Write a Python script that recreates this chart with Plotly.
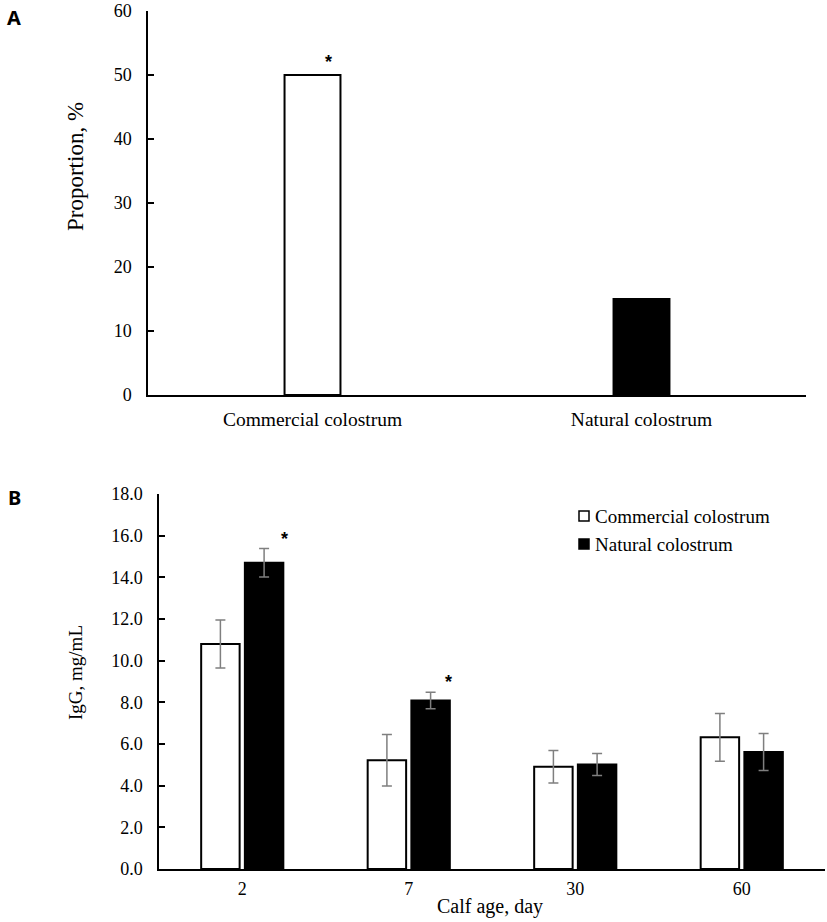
import plotly.graph_objects as go

# Panel A data
a_categories = ["Commercial colostrum", "Natural colostrum"]
a_values = [50, 15]
a_colors = ["white", "black"]

# Panel B data
b_days = ["2", "7", "30", "60"]
b_commercial = [10.8, 5.22, 4.91, 6.32]
b_commercial_err = [1.15, 1.24, 0.78, 1.15]
b_natural = [14.7, 8.09, 5.02, 5.62]
b_natural_err = [0.68, 0.40, 0.53, 0.89]
b_series_names = ["Commercial colostrum", "Natural colostrum"]

SERIF = "Liberation Serif"
W, H = 827, 922

fig = go.Figure()

fig.add_trace(go.Bar(
    x=a_categories, y=a_values, width=0.17,
    marker=dict(color=a_colors, line=dict(color="black", width=2)),
    xaxis="x", yaxis="y", showlegend=False,
))

fig.add_trace(go.Bar(
    x=b_days, y=b_commercial, name=b_series_names[0],
    marker=dict(color="white", line=dict(color="black", width=2)),
    error_y=dict(type="data", array=b_commercial_err, color="#7f7f7f", thickness=1.5, width=5),
    xaxis="x2", yaxis="y2", showlegend=False,
))
fig.add_trace(go.Bar(
    x=b_days, y=b_natural, name=b_series_names[1],
    marker=dict(color="black", line=dict(color="black", width=2)),
    error_y=dict(type="data", array=b_natural_err, color="#7f7f7f", thickness=1.5, width=5),
    xaxis="x2", yaxis="y2", showlegend=False,
))

def px(x):
    return x / W

def py(y):
    return (H - y) / H

axis_common = dict(showline=True, linecolor="black", linewidth=1.5, showgrid=False, zeroline=False,
                   automargin=False)

fig.update_layout(
    template="none",
    width=W, height=H, margin=dict(l=0, r=0, t=0, b=0, pad=0), autosize=False,
    plot_bgcolor="white", paper_bgcolor="white",
    barmode="group", bargap=0.475, bargroupgap=0.12,
    xaxis=dict(domain=[px(148), px(806)], anchor="y", type="category", range=[-0.5, 1.5], ticks="",
               **axis_common,
               tickfont=dict(family=SERIF, size=19.5, color="black"), ticklabelstandoff=6),
    yaxis=dict(domain=[py(395), py(11)], anchor="x", range=[0, 60], dtick=10, ticks="inside",
               ticklen=6, tickcolor="black", tickwidth=1.5, **axis_common,
               tickfont=dict(family=SERIF, size=18, color="black"), ticklabelstandoff=11),
    xaxis2=dict(domain=[px(159), px(825)], anchor="y2", type="category", range=[-0.5, 3.5], ticks="",
                **axis_common,
                tickfont=dict(family=SERIF, size=18, color="black"), ticklabelstandoff=3),
    yaxis2=dict(domain=[py(869), py(494)], anchor="x2", range=[0, 18], dtick=2, tickformat=".1f",
                ticks="inside", ticklen=6, tickcolor="black", tickwidth=1.5, **axis_common,
                tickfont=dict(family=SERIF, size=18, color="black"), ticklabelstandoff=11),
)

def paper_text(text, x, y, size, family=SERIF, angle=0, xanchor="center"):
    return dict(text=text, x=px(x), y=py(y), xref="paper", yref="paper", showarrow=False,
                xanchor=xanchor, yanchor="middle", textangle=angle,
                font=dict(family=family, size=size, color="black"))

ann = []
# panel labels
ann.append(paper_text("<b>A</b>", 14, 18, 20, family="Noto Sans"))
ann.append(paper_text("<b>B</b>", 14, 497, 20, family="Noto Sans"))
# axis titles
ann.append(paper_text("Proportion, %", 75, 167, 23, angle=-90))
ann.append(paper_text("IgG, mg/mL", 75, 673, 19, angle=-90))
ann.append(paper_text("Calf age, day", 490, 906, 20))
# significance asterisks (x given as category index)
star_font = dict(family="Liberation Sans", size=18, color="black")
ann.append(dict(text="<b>*</b>", x=0, y=a_values[0], xref="x", yref="y", showarrow=False,
                xanchor="center", yanchor="middle", xshift=16, yshift=13, font=star_font))
ann.append(dict(text="<b>*</b>", x=0, y=b_natural[0] + b_natural_err[0], xref="x2", yref="y2",
                showarrow=False, xanchor="center", yanchor="middle", xshift=42, yshift=10, font=star_font))
ann.append(dict(text="<b>*</b>", x=1, y=b_natural[1] + b_natural_err[1], xref="x2", yref="y2",
                showarrow=False, xanchor="center", yanchor="middle", xshift=40, yshift=10, font=star_font))
# legend text
ann.append(paper_text(b_series_names[0], 593, 516, 19, xanchor="left"))
ann.append(paper_text(b_series_names[1], 593, 544, 19, xanchor="left"))
fig.update_layout(annotations=ann)

# legend swatches
fig.add_shape(type="rect", xref="paper", yref="paper", x0=px(579), x1=px(589), y0=py(521), y1=py(511),
              line=dict(color="black", width=1.5), fillcolor="white")
fig.add_shape(type="rect", xref="paper", yref="paper", x0=px(579), x1=px(589), y0=py(549), y1=py(539),
              line=dict(color="black", width=1.5), fillcolor="black")

fig.write_html("out.html", config={"displayModeBar": False},
               post_script="document.body.style.margin='0';document.body.style.overflow='hidden';")
